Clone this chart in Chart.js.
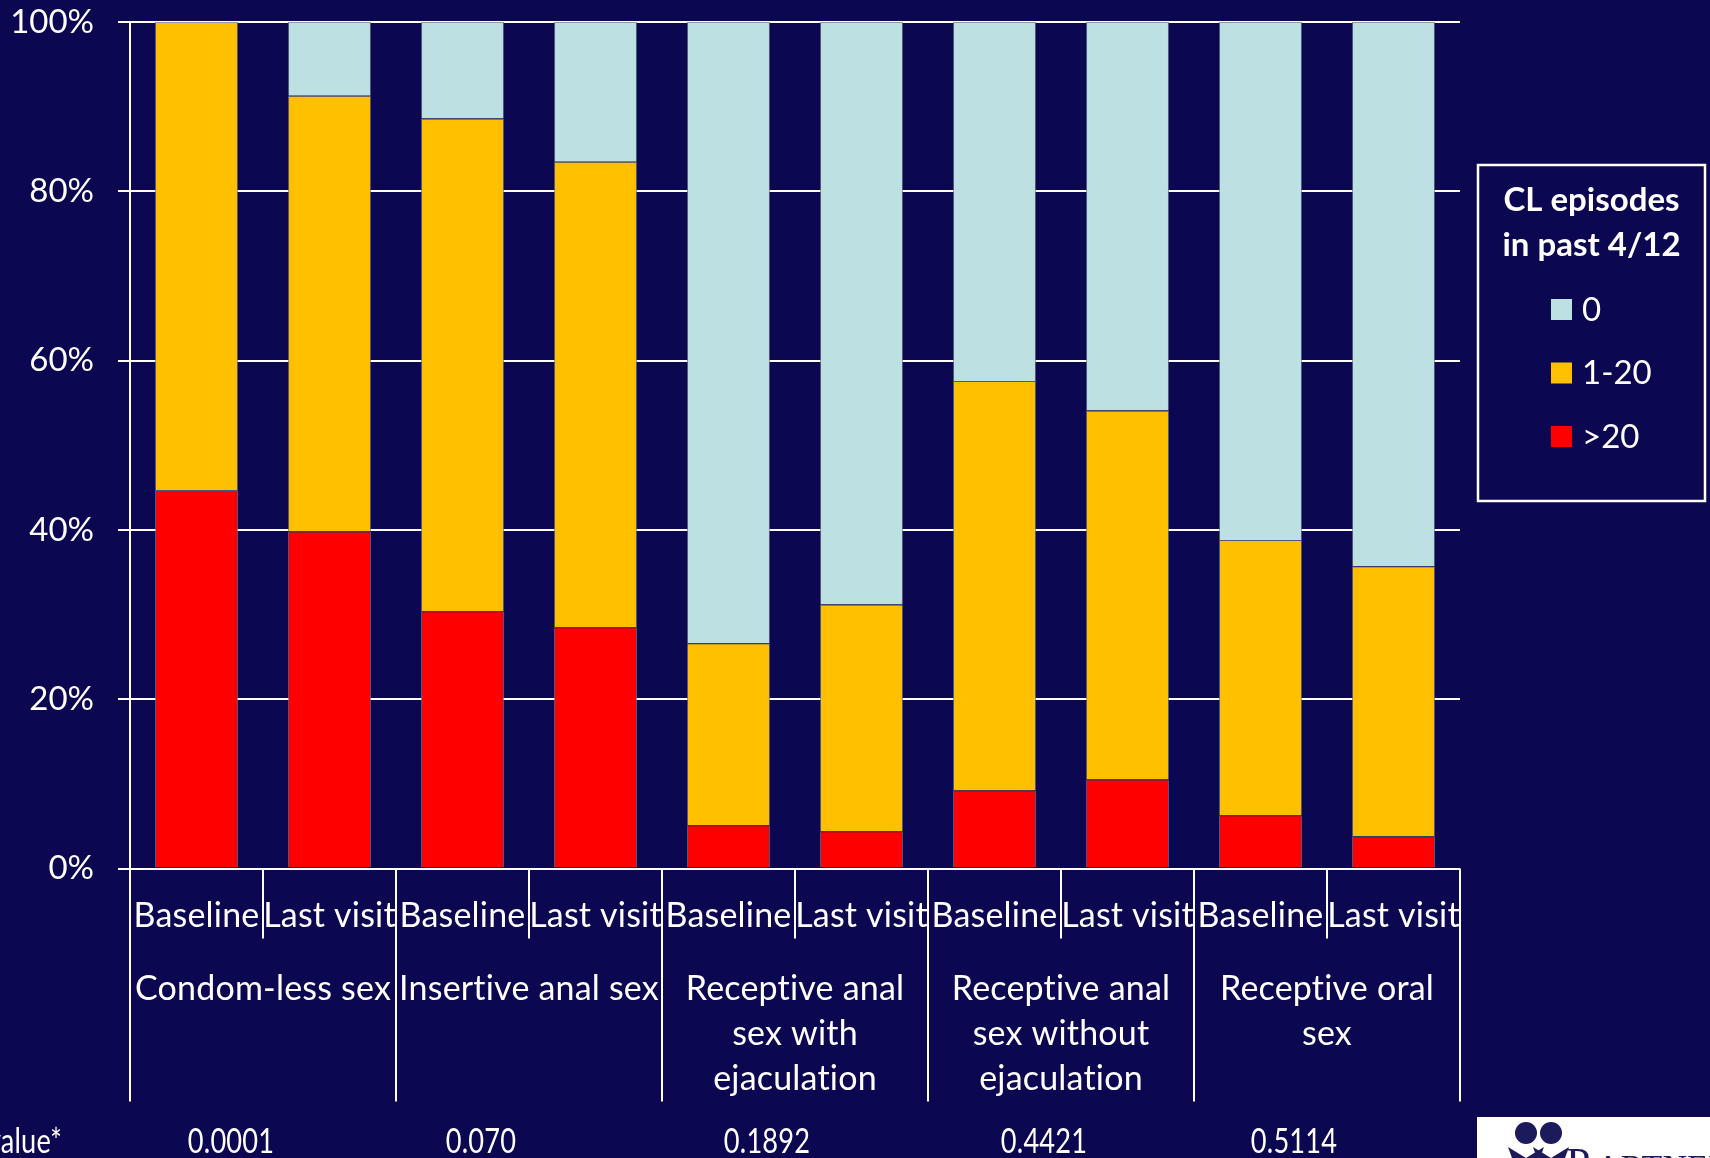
<!DOCTYPE html>
<html>
<head>
<meta charset="utf-8">
<script src="https://cdn.jsdelivr.net/npm/chart.js@4.4.1/dist/chart.umd.min.js"></script>
<style>
  html, body { margin: 0; padding: 0; background: #0b0750; }
  canvas { display: block; }
</style>
</head>
<body>
<canvas id="clChart" width="1710" height="1158"></canvas>
<script>
// visit per bar, and the behaviour group each pair of bars belongs to
const sessions = ['Baseline', 'Last visit', 'Baseline', 'Last visit', 'Baseline', 'Last visit',
  'Baseline', 'Last visit', 'Baseline', 'Last visit'];
const groups = [
  ['Condom-less sex'],
  ['Insertive anal sex'],
  ['Receptive anal', 'sex with', 'ejaculation'],
  ['Receptive anal', 'sex without', 'ejaculation'],
  ['Receptive oral', 'sex']
];
const pValues = ['0.0001', '0.070', '0.1892', '0.4421', '0.5114'];

// % of participants by number of CL episodes
const over20 = [44.7, 39.8, 30.4, 28.5, 5.1, 4.4, 9.2, 10.5, 6.3, 3.8];
const oneTo20 = [55.3, 51.5, 58.2, 55.0, 21.5, 26.8, 48.4, 43.6, 32.5, 31.9];
const zero = [0, 8.7, 11.4, 16.5, 73.4, 68.8, 42.4, 45.9, 61.2, 64.3];

const BG = '#0b0750';
const FONT = 'Lato, "Open Sans", sans-serif';

const background = {
  id: 'background',
  beforeDraw(chart) {
    const ctx = chart.ctx;
    ctx.save();
    ctx.fillStyle = BG;
    ctx.fillRect(0, 0, chart.width, chart.height);
    ctx.restore();
  }
};

// two-level category axis below the bars + p-value row
const axisDecor = {
  id: 'axisDecor',
  afterDraw(chart) {
    const { ctx, chartArea: a, scales: { x } } = chart;
    const cat = x.getPixelForValue(1) - x.getPixelForValue(0);
    ctx.save();
    ctx.strokeStyle = '#ffffff';
    ctx.lineWidth = 2;
    for (let i = 0; i <= sessions.length; i++) {
      const px = Math.round(x.getPixelForValue(i) - cat / 2);
      const end = i % 2 === 0 ? a.bottom + 233 : a.bottom + 70;
      ctx.beginPath();
      ctx.moveTo(px, a.bottom);
      ctx.lineTo(px, end);
      ctx.stroke();
    }

    ctx.fillStyle = '#ffffff';
    ctx.textAlign = 'center';
    ctx.textBaseline = 'middle';
    ctx.font = '34px ' + FONT;
    // tiny spacing keeps Lato from merging "ti" into a ligature
    ctx.letterSpacing = '0.2px';
    sessions.forEach((s, i) => {
      ctx.fillText(s, x.getPixelForValue(i), a.bottom + 48);
    });

    groups.forEach((lines, g) => {
      const cx = (x.getPixelForValue(g * 2) + x.getPixelForValue(g * 2 + 1)) / 2;
      lines.forEach((ln, j) => {
        ctx.fillText(ln, cx, a.bottom + 121 + j * 45);
      });
    });

    // p-value row, narrow type
    const pvX = [231, 481, 767, 1044, 1294];
    const drawNarrow = (txt, px, py, align) => {
      ctx.save();
      ctx.translate(px, py);
      ctx.scale(0.8, 1);
      ctx.textAlign = align;
      ctx.fillText(txt, 0, 0);
      ctx.restore();
    };
    drawNarrow('P-value*', 62, a.bottom + 274, 'right');
    pValues.forEach((p, i) => drawNarrow(p, pvX[i], a.bottom + 274, 'center'));

    // logo corner
    ctx.fillStyle = '#ffffff';
    ctx.fillRect(1477, 1117, chart.width - 1477, chart.height - 1117);
    ctx.fillStyle = '#1c1a5a';
    [1526, 1551].forEach(hx => {
      ctx.beginPath();
      ctx.arc(hx, 1133, 11, 0, Math.PI * 2);
      ctx.fill();
      ctx.beginPath();
      ctx.moveTo(hx - 18, 1147);
      ctx.lineTo(hx, 1158);
      ctx.lineTo(hx + 18, 1147);
      ctx.lineTo(hx + 14, 1158);
      ctx.lineTo(hx - 14, 1158);
      ctx.closePath();
      ctx.fill();
    });
    ctx.textAlign = 'left';
    ctx.textBaseline = 'alphabetic';
    ctx.font = '44px "Liberation Serif", serif';
    ctx.fillText('P', 1566, 1178);
    ctx.font = '34px "Liberation Serif", serif';
    ctx.fillText('ARTNER', 1596, 1178);
    ctx.restore();
  }
};

// boxed legend on the right, top item = top segment
const boxLegend = {
  id: 'boxLegend',
  afterDraw(chart) {
    const ctx = chart.ctx;
    const bx = 1478, by = 165, bw = 227, bh = 336;
    ctx.save();
    ctx.strokeStyle = '#ffffff';
    ctx.lineWidth = 2.5;
    ctx.strokeRect(bx, by, bw, bh);
    ctx.fillStyle = '#ffffff';
    ctx.textAlign = 'center';
    ctx.textBaseline = 'middle';
    ctx.font = 'bold 33px ' + FONT;
    ctx.fillText('CL episodes', bx + bw / 2, by + 35);
    ctx.fillText('in past 4/12', bx + bw / 2, by + 80);
    ctx.font = '33px ' + FONT;
    ctx.textAlign = 'left';
    const items = chart.data.datasets.slice().reverse();
    items.forEach((ds, i) => {
      const cy = by + 144 + i * 63.5;
      ctx.fillStyle = ds.backgroundColor;
      ctx.fillRect(1551, cy - 10, 21, 21);
      ctx.fillStyle = '#ffffff';
      ctx.fillText(ds.label, 1582, cy + 1);
    });
    ctx.restore();
  }
};

const barStyle = { borderWidth: 1, borderColor: 'rgba(110,115,140,0.75)', barPercentage: 0.624, categoryPercentage: 1 };

const chart = new Chart(document.getElementById('clChart'), {
  type: 'bar',
  data: {
    labels: sessions,
    datasets: [
      Object.assign({ label: '>20', data: over20, backgroundColor: '#ff0000' }, barStyle),
      Object.assign({ label: '1-20', data: oneTo20, backgroundColor: '#ffc000' }, barStyle),
      Object.assign({ label: '0', data: zero, backgroundColor: '#bde0e2' }, barStyle)
    ]
  },
  options: {
    responsive: false,
    animation: false,
    layout: { padding: { top: 22, right: 250, bottom: 289.5, left: 0 } },
    plugins: { legend: { display: false }, tooltip: { enabled: false } },
    scales: {
      x: { stacked: true, display: false },
      y: {
        stacked: true,
        min: 0,
        max: 100,
        ticks: {
          stepSize: 20,
          color: '#ffffff',
          padding: 24,
          font: { family: FONT, size: 33 },
          callback: v => v + '%'
        },
        grid: { color: '#ffffff', lineWidth: 2, tickLength: 12 },
        border: { color: '#ffffff', width: 2 },
        afterFit(scale) {
          scale.width = 130;
          scale.paddingTop = 0;
        }
      }
    }
  },
  plugins: [background, axisDecor, boxLegend]
});
</script>
</body>
</html>
